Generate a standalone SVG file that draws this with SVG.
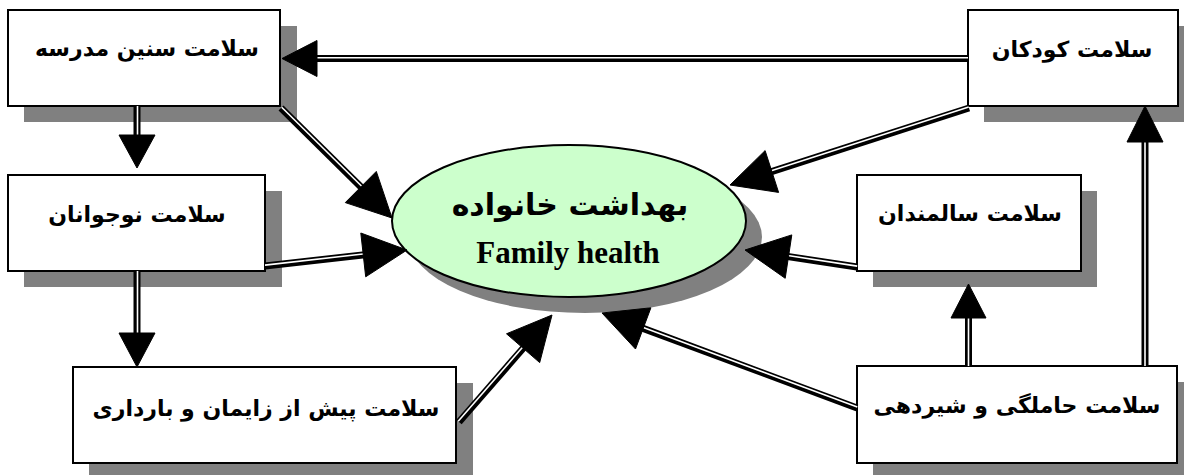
<svg xmlns="http://www.w3.org/2000/svg" width="1184" height="475" viewBox="0 0 1184 475">
<style>
.shadow{fill:#808080;stroke:none}
.box{fill:#ffffff;stroke:#000;stroke-width:2}
.lbl{font-family:"DejaVu Sans","Noto Sans",sans-serif;font-weight:bold;font-size:22px;fill:#000;text-anchor:middle}
.dl{stroke:#000;stroke-width:7;fill:none}
.wl{stroke:#fff;stroke-width:1.6;fill:none}
.head{fill:#000;stroke:#000;stroke-width:1}
</style>
<rect width="1184" height="475" fill="#ffffff"/>
<g id="node-school">
<rect class="shadow" x="24" y="26" width="273" height="96"/>
<rect class="box" x="8" y="10" width="272" height="96"/>
<text class="lbl" x="147" y="56">سلامت سنین مدرسه</text>
</g>
<g id="node-children">
<rect class="shadow" x="984" y="26" width="200" height="96"/>
<rect class="box" x="968" y="10" width="210" height="96"/>
<text class="lbl" x="1072" y="57">سلامت کودکان</text>
</g>
<g id="node-adolescents">
<rect class="shadow" x="24" y="191" width="258" height="96"/>
<rect class="box" x="8" y="175" width="257" height="96"/>
<text class="lbl" x="137" y="222">سلامت نوجوانان</text>
</g>
<g id="node-elderly">
<rect class="shadow" x="873" y="191" width="224" height="96"/>
<rect class="box" x="857" y="175" width="224" height="96"/>
<text class="lbl" x="970" y="221">سلامت سالمندان</text>
</g>
<g id="node-prenatal">
<rect class="shadow" x="89" y="383" width="384" height="96"/>
<rect class="box" x="73" y="367" width="383" height="96"/>
<text class="lbl" x="266" y="416">سلامت پیش از زایمان و بارداری</text>
</g>
<g id="node-pregnancy">
<rect class="shadow" x="873" y="382" width="320" height="96"/>
<rect class="box" x="857" y="366" width="320" height="97"/>
<text class="lbl" x="1017" y="413">سلامت حاملگی و شیردهی</text>
</g>
<g id="node-family">
<ellipse class="shadow" cx="585" cy="237" rx="177" ry="76"/>
<ellipse cx="569" cy="221" rx="177" ry="76" fill="#ccffcc" stroke="#000" stroke-width="2"/>
<text x="570" y="215" font-family="DejaVu Sans, sans-serif" font-weight="bold" font-size="30" text-anchor="middle">بهداشت خانواده</text>
<text x="568" y="263" font-family="Liberation Serif, serif" font-weight="bold" font-size="31" text-anchor="middle">Family health</text>
</g>
<g id="connectors">
<line class="dl" x1="968" y1="58.5" x2="315" y2="58.5"/>
<line class="wl" x1="968" y1="57.7" x2="315" y2="57.7"/>
<polygon class="head" points="282,58.5 317,40.5 317,76.5"/>
<line class="dl" x1="281" y1="108" x2="362" y2="188"/>
<line class="wl" x1="281.7" y1="107.3" x2="362.7" y2="187.3"/>
<polygon class="head" points="392,218 345.3,202.6 376.3,171.4"/>
<line class="dl" x1="137" y1="106" x2="137" y2="137"/>
<line class="wl" x1="137.5" y1="106" x2="137.5" y2="137"/>
<polygon class="head" points="137,168 119,135 155,135"/>
<line class="dl" x1="265" y1="266" x2="365" y2="254.7"/>
<line class="wl" x1="265" y1="265.1" x2="365" y2="253.8"/>
<polygon class="head" points="407,250 365.7,276.8 360.8,233"/>
<line class="dl" x1="137" y1="271" x2="137" y2="335"/>
<line class="wl" x1="137.5" y1="271" x2="137.5" y2="335"/>
<polygon class="head" points="137,367 119,333 155,333"/>
<line class="dl" x1="459" y1="422" x2="524" y2="347.2"/>
<line class="wl" x1="458.2" y1="421.3" x2="523.2" y2="346.5"/>
<polygon class="head" points="552,315 539.7,362.6 506.5,333.8"/>
<line class="dl" x1="857" y1="408" x2="641" y2="327.6"/>
<line class="wl" x1="857.3" y1="407.1" x2="641.3" y2="326.7"/>
<polygon class="head" points="602,313 650.9,307.8 635.5,349"/>
<line class="dl" x1="968.5" y1="366" x2="968.5" y2="315"/>
<line class="wl" x1="968.5" y1="366" x2="968.5" y2="315"/>
<polygon class="head" points="968.5,284 951,318 986,318"/>
<line class="dl" x1="1145" y1="366" x2="1145" y2="140"/>
<line class="wl" x1="1145" y1="366" x2="1145" y2="140"/>
<polygon class="head" points="1145,106 1127,142 1163,142"/>
<line class="dl" x1="857" y1="267" x2="786" y2="256.2"/>
<line class="wl" x1="857.2" y1="266.1" x2="786.2" y2="255.3"/>
<polygon class="head" points="745,250 791.8,234.9 785.2,278.3"/>
<line class="dl" x1="969" y1="108" x2="770" y2="172.1"/>
<line class="wl" x1="968.7" y1="107.1" x2="769.7" y2="171.2"/>
<polygon class="head" points="730,185 778.6,192.4 765.1,150.6"/>
</g>
</svg>
